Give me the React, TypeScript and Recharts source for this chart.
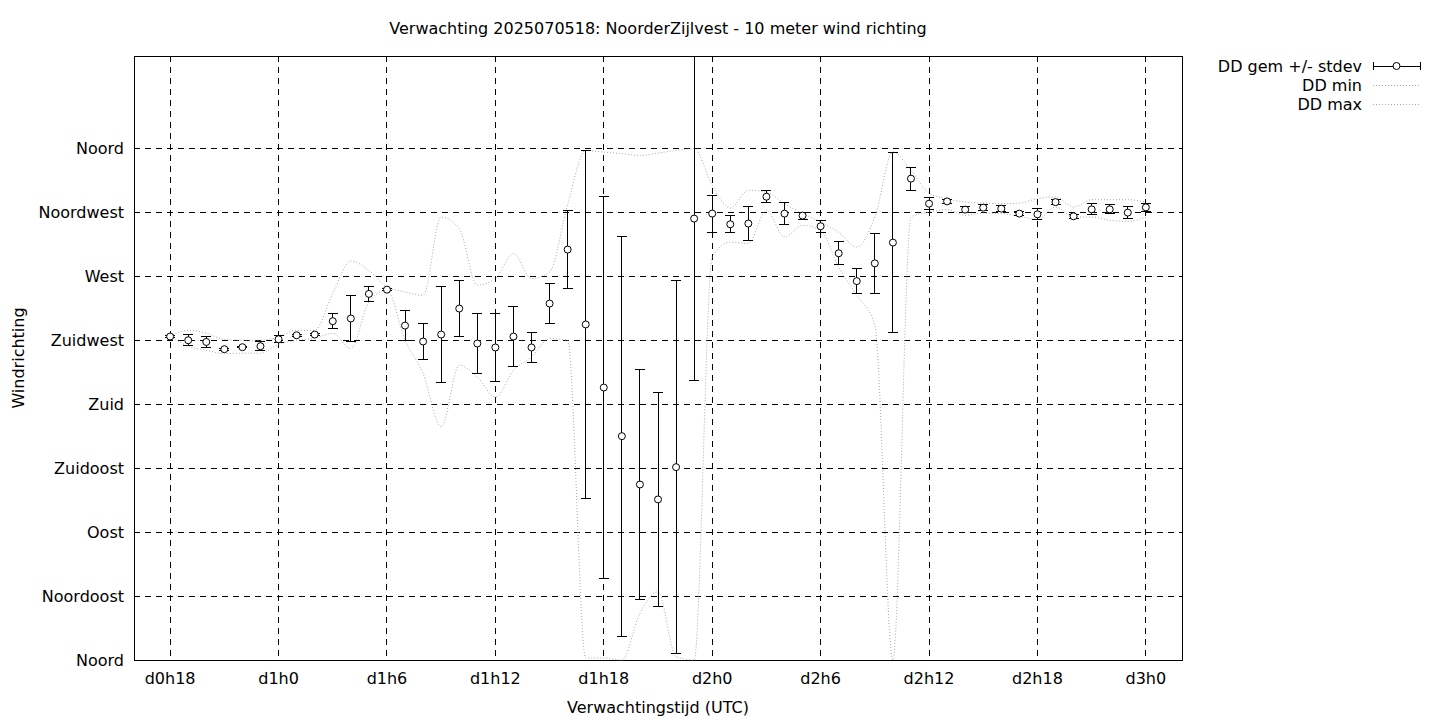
import React from 'react';
import {
  ComposedChart,
  Line,
  ErrorBar,
  XAxis,
  YAxis,
  CartesianGrid,
  ReferenceArea,
} from 'recharts';

// forecast hour (hours since d0h0)
const hours = [
  18, 19, 20, 21, 22, 23, 24, 25, 26, 27, 28, 29, 30, 31, 32, 33, 34, 35, 36,
  37, 38, 39, 40, 41, 42, 43, 44, 45, 46, 47, 48, 49, 50, 51, 52, 53, 54, 55,
  56, 57, 58, 59, 60, 61, 62, 63, 64, 65, 66, 67, 68, 69, 70, 71, 72,
];

// wind direction (degrees)
const ddMean = [
  227.6, 225.0, 223.8, 218.7, 220.1, 220.8, 225.7, 228.5, 229.0, 238.4, 240.3,
  257.6, 260.6, 235.3, 224.1, 229.0, 247.3, 222.7, 219.9, 227.6, 219.9, 250.8,
  288.8, 236.1, 191.7, 157.5, 123.5, 113.0, 135.7, 310.6, 314.1, 306.6, 307.1,
  326.0, 314.1, 312.7, 305.2, 286.2, 266.6, 279.1, 293.7, 338.7, 321.1, 322.7,
  316.9, 318.3, 317.6, 314.1, 313.6, 322.2, 312.2, 317.1, 317.1, 314.8, 318.5,
];

const ddStdev = [
  0.4, 4.0, 3.7, 0.7, 0.5, 3.0, 2.3, 0.7, 0.7, 5.3, 16.0, 5.3, 0.7, 10.5, 12.5,
  33.6, 20.0, 21.3, 23.9, 21.4, 10.8, 13.9, 27.6, 122.5, 134.2, 140.8, 81.2,
  75.2, 131.1, 113.7, 13.0, 6.0, 12.1, 4.2, 7.6, 2.5, 4.2, 8.1, 8.8, 21.1, 63.5,
  8.0, 4.4, 1.4, 2.0, 2.0, 2.0, 1.4, 3.9, 1.6, 1.5, 3.9, 3.2, 4.4, 3.0,
];

const ddMin = [
  227.8, 220.8, 218.0, 215.6, 215.9, 215.9, 222.2, 225.0, 226.4, 229.9, 219.2,
  251.9, 260.2, 225.0, 201.6, 164.0, 207.4, 199.2, 185.1, 203.9, 213.3, 226.2,
  225.0, 1.4, 1.4, 0, 32.8, 48.0, 2.3, 0, 283.4, 294.0, 293.0, 316.4, 297.6,
  305.9, 302.3, 276.3, 256.6, 235.5, 0, 311.7, 315.2, 316.9, 312.9, 314.5,
  314.1, 312.2, 309.9, 318.7, 311.7, 311.7, 309.4, 308.7, 311.7,
];

const ddMax = [
  227.8, 232.0, 229.9, 225.5, 225.0, 225.0, 227.3, 232.0, 232.0, 258.0, 280.8,
  274.2, 262.3, 259.0, 256.6, 311.7, 303.5, 263.7, 268.4, 286.0, 268.4, 273.0,
  320.6, 358.6, 357.4, 356.3, 355.1, 356.7, 358.6, 359.8, 334.0, 318.0, 330.5,
  329.3, 321.1, 314.1, 308.2, 300.9, 290.6, 311.7, 357.4, 344.5, 328.4, 324.6,
  322.2, 321.5, 321.1, 321.5, 324.6, 325.8, 318.7, 323.9, 323.9, 323.9, 322.2,
];

const xTicks = [18, 24, 30, 36, 42, 48, 54, 60, 66, 72];
const yTicks = [0, 45, 90, 135, 180, 225, 270, 315, 360];
const yLabels = [
  'Noord',
  'Noordoost',
  'Oost',
  'Zuidoost',
  'Zuid',
  'Zuidwest',
  'West',
  'Noordwest',
  'Noord',
];

const FONT = '"DejaVu Sans", sans-serif';
const FONT_SIZE = 16;
const DOTTED = '#a8a8a8';

const chartData = hours.map((h, i) => ({
  hour: h,
  mean: ddMean[i],
  err: ddStdev[i],
  min: ddMin[i],
  max: ddMax[i],
}));

const formatHour = (h: number) => `d${Math.floor(h / 24)}h${h % 24}`;
const formatDir = (v: number) => yLabels[yTicks.indexOf(v)] ?? '';

function LegendBox() {
  return (
    <svg
      width={250}
      height={70}
      style={{ position: 'absolute', left: 1190, top: 52 }}
      fontFamily={FONT}
      fontSize={FONT_SIZE}
      shapeRendering="crispEdges"
    >
      <text x={172} y={19.5} textAnchor="end">DD gem +/- stdev</text>
      <line x1={183} x2={230} y1={14} y2={14} stroke="#000" />
      <line x1={183} x2={183} y1={10} y2={18} stroke="#000" />
      <line x1={230} x2={230} y1={10} y2={18} stroke="#000" />
      <circle cx={206.5} cy={14} r={3.5} fill="#fff" stroke="#000" shapeRendering="auto" />
      <text x={172} y={38.5} textAnchor="end">DD min</text>
      <line x1={183} x2={230} y1={33} y2={33} stroke={DOTTED} strokeDasharray="1 2" />
      <text x={172} y={57.5} textAnchor="end">DD max</text>
      <line x1={183} x2={230} y1={52} y2={52} stroke={DOTTED} strokeDasharray="1 2" />
    </svg>
  );
}

export default function App() {
  return (
    <div
      style={{
        position: 'fixed',
        left: 0,
        top: 0,
        width: 1440,
        height: 720,
        background: '#fff',
        fontFamily: FONT,
      }}
    >
      <div
        style={{
          position: 'absolute',
          left: 134,
          width: 1048,
          top: 19,
          textAlign: 'center',
          fontSize: FONT_SIZE,
          lineHeight: '20px',
          color: '#000',
        }}
      >
        Verwachting 2025070518: NoorderZijlvest - 10 meter wind richting
      </div>
      <ComposedChart
        width={1440}
        height={720}
        data={chartData}
        margin={{ top: 56, right: 258, bottom: 0, left: 0 }}
        style={{ fontFamily: FONT }}
      >
        <CartesianGrid
          stroke="#000"
          strokeDasharray="6 5"
          shapeRendering="crispEdges"
          syncWithTicks
        />
        <XAxis
          dataKey="hour"
          type="number"
          domain={[16, 74]}
          ticks={xTicks}
          tickFormatter={formatHour}
          height={60}
          tickLine={false}
          axisLine={false}
          tickSize={0}
          tickMargin={13}
          tick={{ fill: '#000', fontSize: FONT_SIZE }}
          label={{
            value: 'Verwachtingstijd (UTC)',
            position: 'insideBottom',
            offset: 7,
            fill: '#000',
            fontSize: FONT_SIZE,
          }}
        />
        <YAxis
          type="number"
          domain={[0, 425]}
          ticks={yTicks}
          tickFormatter={formatDir}
          width={134}
          tickLine={false}
          axisLine={false}
          tickSize={0}
          tickMargin={10}
          interval={0}
          tick={{ fill: '#000', fontSize: FONT_SIZE }}
          label={{
            value: 'Windrichting',
            angle: -90,
            position: 'insideLeft',
            offset: 18,
            fill: '#000',
            fontSize: FONT_SIZE,
            style: { textAnchor: 'middle' },
          }}
        />
        <Line
          type="monotone"
          dataKey="min"
          stroke={DOTTED}
          strokeDasharray="1 2"
          strokeWidth={1}
          dot={false}
          isAnimationActive={false}
        />
        <Line
          type="monotone"
          dataKey="max"
          stroke={DOTTED}
          strokeDasharray="1 2"
          strokeWidth={1}
          dot={false}
          isAnimationActive={false}
        />
        <Line
          dataKey="mean"
          stroke="none"
          dot={{ r: 3.5, fill: '#fff', stroke: '#000', strokeWidth: 1 }}
          activeDot={false}
          isAnimationActive={false}
        >
          <ErrorBar
            dataKey="err"
            width={5}
            stroke="#000"
            strokeWidth={1}
            direction="y"
            shapeRendering="crispEdges"
          />
        </Line>
        <ReferenceArea
          x1={16}
          x2={74}
          y1={0}
          y2={425}
          fill="none"
          stroke="#000"
          strokeWidth={1}
          shapeRendering="crispEdges"
          ifOverflow="visible"
        />
      </ComposedChart>
      <LegendBox />
    </div>
  );
}
